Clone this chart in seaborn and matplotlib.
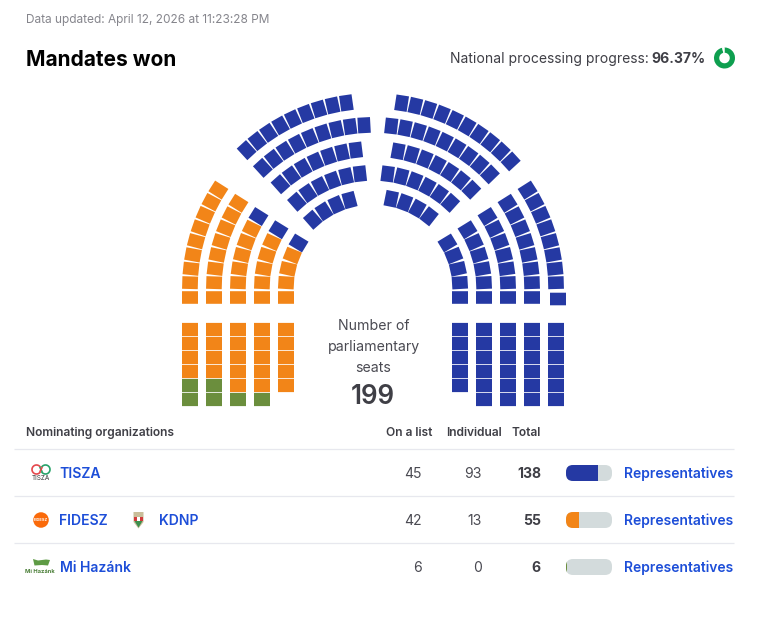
import numpy as np
import pandas as pd
import seaborn as sns
import matplotlib
matplotlib.use("Agg")
import matplotlib.pyplot as plt
from matplotlib.patches import Arc, Ellipse, FancyBboxPatch, Polygon, Rectangle
from matplotlib.path import Path
from matplotlib.transforms import Affine2D

# ---------- data ----------
PARTIES = ["TISZA", "FIDESZ", "Mi Hazánk"]
ON_LIST = [45, 42, 6]
INDIVIDUAL = [93, 13, 0]
TOTAL = [138, 55, 6]
SEAT_TOTAL = 199
PROGRESS = 96.37

# seats per ring, outer to inner
LEFT_LOW_ORANGE = [8, 7, 5, 4, 3]
LEFT_LOW_BLUE = [0, 0, 1, 1, 1]
RIGHT_LOW_BLUE = [8, 7, 6, 5, 4]
LEFT_TOP_BLUE = [9, 9, 7, 6, 4]
RIGHT_TOP_BLUE = [10, 9, 7, 6, 4]
# seats per column of the straight blocks, outer to inner (left) / inner to outer (right)
LEFT_ORANGE_COLS = [4, 4, 5, 5, 5]
LEFT_GREEN_COLS = [2, 2, 1, 1, 0]
RIGHT_BLUE_COLS = [5, 6, 6, 6, 6]

# ---------- layout ----------
BLUE, ORANGE, GREEN = "#2539A3", "#F28518", "#6B8E3D"
CX, CY = 373, 288
LOW_RADII = [183, 159, 135, 111, 87]
TOP_RADII = [187, 163, 139, 115, 91]
LEFT_TOP_START = [47.5, 47.5, 48.3, 48.6, 48.6]
RIGHT_TOP_START = [42.6, 44.2, 45.0, 47.8, 52.0]
LEFT_COLS_X = [190, 214, 238, 262, 286]
RIGHT_COLS_X = [460, 484, 508, 532, 556]
PITCH = 14
ARC_SEAT = (15.7, 12.6)
BASE_SEAT = (16, 12.6)
GRID_SEAT = (16, 13.2)
LOW_LIFT = 5.3


def ring(radius, start, counts_colors, side):
    step = np.degrees(PITCH / radius)
    rows, i = [], 0
    for n, party in counts_colors:
        for _ in range(n):
            a = start + i * step
            t = np.radians(a)
            rows.append(dict(x=CX + side * radius * np.cos(t), y=CY - radius * np.sin(t),
                             rot=side * a, party=party, w=ARC_SEAT[0], h=ARC_SEAT[1]))
            i += 1
    return rows


def low_start(radius):
    return np.degrees(np.arcsin(LOW_LIFT / radius))


seats = []
for r, o, b in zip(LOW_RADII, LEFT_LOW_ORANGE, LEFT_LOW_BLUE):
    seats += ring(r, low_start(r), [(o, "FIDESZ"), (b, "TISZA")], -1)
for r, s, b in zip(TOP_RADII, LEFT_TOP_START, LEFT_TOP_BLUE):
    seats += ring(r, s, [(b, "TISZA")], -1)
for r, b in zip(LOW_RADII, RIGHT_LOW_BLUE):
    seats += ring(r, low_start(r), [(b, "TISZA")], 1)
for r, s, b in zip(TOP_RADII, RIGHT_TOP_START, RIGHT_TOP_BLUE):
    seats += ring(r, s, [(b, "TISZA")], 1)

# base row of each ring plus the straight blocks
for x in LEFT_COLS_X:
    seats.append(dict(x=x, y=297.5, rot=0, party="FIDESZ", w=BASE_SEAT[0], h=BASE_SEAT[1]))
for x in RIGHT_COLS_X:
    seats.append(dict(x=x + (2 if x == 556 else 0), y=299 if x == 556 else 297.5, rot=0, party="TISZA",
                      w=BASE_SEAT[0], h=BASE_SEAT[1]))
for x, o, g in zip(LEFT_COLS_X, LEFT_ORANGE_COLS, LEFT_GREEN_COLS):
    for k in range(o + g):
        seats.append(dict(x=x, y=329.5 + k * PITCH, rot=0, party="FIDESZ" if k < o else "Mi Hazánk",
                          w=GRID_SEAT[0], h=GRID_SEAT[1]))
for x, b in zip(RIGHT_COLS_X, RIGHT_BLUE_COLS):
    for k in range(b):
        seats.append(dict(x=x, y=329.5 + k * PITCH, rot=0, party="TISZA", w=GRID_SEAT[0], h=GRID_SEAT[1]))
seats = pd.DataFrame(seats)

# ---------- figure ----------
sns.set_theme(style="white")
plt.rcParams["font.family"] = ["Inter", "DejaVu Sans"]
fig = plt.figure(figsize=(7.58, 6.18), dpi=100, facecolor="white")
ax = fig.add_axes([0, 0, 1, 1])
ax.set_xlim(0, 758)
ax.set_ylim(618, 0)
ax.axis("off")

sns.scatterplot(data=seats, x="x", y="y", hue="party", ax=ax, legend=False, marker="s", s=1,
                linewidth=0, edgecolor="none", palette={"TISZA": BLUE, "FIDESZ": ORANGE, "Mi Hazánk": GREEN})
coll = ax.collections[-1]
coll.set_snap(False)
px = 0.72  # marker units are points when s=1
unit = Path.unit_rectangle()
coll.set_paths([unit.transformed(Affine2D().translate(-.5, -.5).scale(w * px, h * px).rotate_deg(r))
                for w, h, r in zip(seats["w"], seats["h"], seats["rot"])])
ax.set_xlabel("")
ax.set_ylabel("")
ax.set_xlim(0, 758)
ax.set_ylim(618, 0)
ax.axis("off")


def fs(pixels):
    return pixels * 0.72


DARK, GREY, LINK = "#3F3F46", "#85858C", "#1D4ED8"
ax.text(26, 20, "Data updated: April 12, 2026 at 11:23:28 PM", fontsize=fs(11.85), color=GREY, va="center")
ax.text(26, 59.5, "Mandates won", fontsize=fs(20.9), color="black", fontweight="bold", va="center")
ax.text(705, 59, f"{PROGRESS:.2f}%", fontsize=fs(14), color=DARK, fontweight="bold", va="center", ha="right")
ax.text(649, 59, "National processing progress:", fontsize=fs(13.95), color=DARK, va="center", ha="right")

# progress donut
dax = fig.add_axes([714 / 758, 1 - 68.5 / 618, 21 / 758, 21 / 618])
dax.pie([PROGRESS, 100 - PROGRESS], colors=["#0E9F4F", "#FFFFFF"], startangle=90, counterclock=False,
        radius=1, wedgeprops=dict(width=0.5, linewidth=0))
dax.set_xlim(-1, 1)
dax.set_ylim(-1, 1)
dax.set_aspect("equal")

# centre label
for y, t in zip([326, 347, 368], ["Number of", "parliamentary", "seats"]):
    ax.text(373.5, y, t, fontsize=fs(14.1), color="#4A4A52", ha="center", va="center")
ax.text(373, 397, str(SEAT_TOTAL), fontsize=fs(26), color=DARK, fontweight="semibold", ha="center", va="center")

# table
HY = 433
ax.text(26, HY, "Nominating organizations", fontsize=fs(12), color=DARK, fontweight="semibold", va="center")
for x, t in zip([432, 502, 541], ["On a list", "Individual", "Total"]):
    ax.text(x, HY, t, fontsize=fs(12), color=DARK, fontweight="semibold", va="center", ha="right")
for y in [449, 496, 543]:
    ax.plot([14, 734], [y, y], color="#E7E8EE", lw=0.9, solid_capstyle="butt")

ROWS = [473, 520, 567]
for y, p, a, b, c in zip(ROWS, PARTIES, ON_LIST, INDIVIDUAL, TOTAL):
    ax.text(59.5, y + 1, p, fontsize=fs(14), color=LINK, fontweight="semibold", va="center")
    ax.text(421.5, y + 1, str(a), fontsize=fs(14), color="#4A4A52", va="center", ha="right")
    ax.text(481.5, y + 1, str(b), fontsize=fs(14), color="#4A4A52", va="center", ha="right")
    ax.text(541, y + 1, str(c), fontsize=fs(14), color=DARK, fontweight="bold", va="center", ha="right")
    ax.text(733.5, y + 1, "Representatives", fontsize=fs(13.9), color=LINK, fontweight="semibold", va="center", ha="right")
ax.text(159, ROWS[1] + 1, "KDNP", fontsize=fs(14), color=LINK, fontweight="semibold", va="center")

# share bars
pills = []
for y in ROWS:
    pill = FancyBboxPatch((566, y - 8), 46, 16, boxstyle="round,pad=0,rounding_size=7",
                          fc="#D3DBDC", ec="none", zorder=1)
    ax.add_patch(pill)
    pills.append(pill)
bax = fig.add_axes([566 / 758, 1 - 590.5 / 618, 46 / 758, 141 / 618])
bax.patch.set_alpha(0)
shares = pd.DataFrame(dict(party=PARTIES, total=TOTAL))
sns.barplot(data=shares, y="party", x="total", hue="party", ax=bax, legend=False, width=16 / 47, saturation=1,
            palette={"TISZA": BLUE, "FIDESZ": ORANGE, "Mi Hazánk": GREEN})
bax.set_xlim(0, SEAT_TOTAL)
bax.set_ylim(2.5, -0.5)
bax.axis("off")
for bar, pill in zip(bax.patches, pills):
    bar.set_clip_path(pill)
    bar.set_linewidth(0)

# logos
y = ROWS[0] - 3.5
ax.add_patch(Arc((36.5, y), 9, 9, theta1=30, theta2=330, ec="#E5484D", lw=1.2))
ax.add_patch(Arc((45.5, y), 9, 9, theta1=-150, theta2=150, ec="#27A36A", lw=1.2))
ax.plot([40, 42], [y - 2, y + 2], color="#27A36A", lw=1.2)
ax.plot([40, 42], [y + 2, y - 2], color="#E5484D", lw=1.2)
ax.text(41, ROWS[0] + 5.5, "TISZA", fontsize=4.6, color="#333333", ha="center", va="center")

ax.add_patch(Ellipse((41, ROWS[1]), 15.5, 15.5, fc="#FA6A0A", ec="none"))
ax.text(41, ROWS[1], "FIDESZ", fontsize=2.9, color="white", fontweight="bold", ha="center", va="center")

ax.add_patch(Polygon([(133.5, 512), (143.5, 512), (143.5, 522), (138.5, 528.5), (133.5, 522)],
                     fc="#C9BE9A", ec="none"))
ax.add_patch(Rectangle((134, 516.5), 9, 4, fc="#D23B3B", ec="none"))
ax.add_patch(Rectangle((137, 516.5), 3, 4, fc="white", ec="none"))
ax.add_patch(Polygon([(134.5, 521), (142.5, 521), (138.5, 527.5)], fc="#3E8F4E", ec="none"))

ax.add_patch(Polygon([(33, 559), (38, 560.5), (46, 559.5), (50, 560), (48, 565.5), (42, 565), (34.5, 565.5)],
                     fc="#5E9B45", ec="none"))
ax.text(39.5, 571.5, "Mi Hazánk", fontsize=4.1, color="#4B7F38", fontweight="bold", ha="center", va="center")

fig.savefig("out.png", dpi=100, facecolor="white")
